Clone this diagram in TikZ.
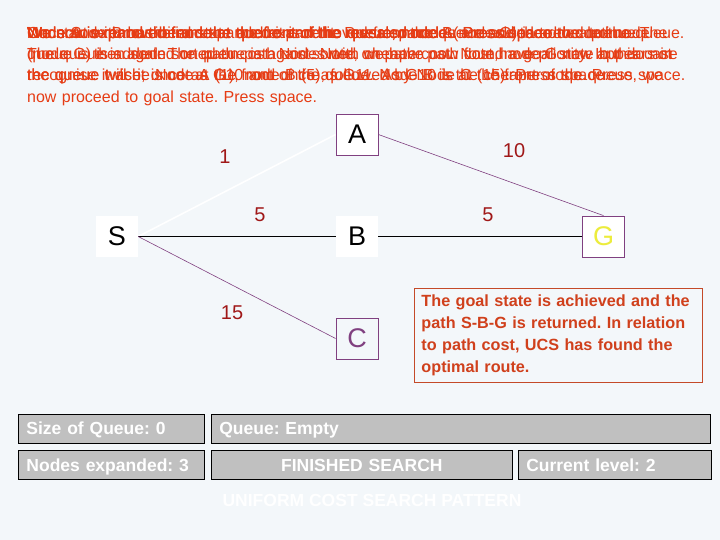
\documentclass[tikz,border=0pt]{standalone}
\usepackage{fontspec}
\setmainfont{Liberation Sans}
\usetikzlibrary{positioning}
\frenchspacing
\definecolor{UcsBack}{HTML}{F3F7FA}
\definecolor{UcsMsg}{HTML}{E63C14}
\definecolor{UcsNote}{HTML}{D0401C}
\definecolor{UcsNoteLine}{HTML}{C44A28}
\definecolor{UcsCost}{HTML}{A01818}
\definecolor{UcsPurple}{HTML}{804080}
\definecolor{UcsGoal}{HTML}{ECEC3C}
\definecolor{UcsGrey}{HTML}{C0C0C0}

\begin{document}
\begin{tikzpicture}[x=1pt, y=-1pt, node distance=6pt and 6pt,
  msgtext/.style={anchor=north west, inner sep=0pt, text width=668pt, align=left,
    text=UcsMsg, font=\fontsize{16}{21.3}\selectfont},
  statebox/.style={fill=white, minimum width=42pt, minimum height=41pt, inner sep=0pt,
    font=\fontsize{27}{30}\selectfont},
  markedbox/.style={statebox, draw=UcsPurple, line width=0.8pt},
  costlabel/.style={text=UcsCost, font=\fontsize{20}{24}\selectfont},
  infobox/.style={draw=black, fill=UcsGrey, line width=0.9pt, minimum height=29pt,
    inner xsep=8pt, inner ysep=0pt, text height=13pt, text depth=1pt, align=left, text=white,
    font=\fontsize{17.5}{20}\selectfont\bfseries}]
  \useasboundingbox (0,0) rectangle (720,540);
  \fill[UcsBack] (0,0) rectangle (720,540);

  % overlaid step messages
  \node[msgtext] (msg1) at (27,26.5) {We start with our initial state and expand it. Press space.};
  \node[msgtext] (msg2) at (27,26.5) {Node S is removed from the queue and the revealed nodes are added to the queue. The queue is then sorted on path cost. Nodes with cheaper path cost have priority. In this case the queue will be Node A (1), node B (5), followed by Node C (15). Press space.};
  \node[msgtext] (msg3) at (27,26.5) {We now expand the node at the front of the queue, node A. Press space to continue.};
  \node[msgtext] (msg4) at (27,26.5) {Node A is removed from the queue and the revealed node (node G) is added to the queue. The queue is again sorted on path cost. Note, we have now found a goal state but do not recognise it as it is not at the front of the queue. Node B is the cheaper node. Press space.};
  \node[msgtext] (msg5) at (27,26.5) {We now expand the node at the front of the queue, node B. Press space.};
  \node[msgtext] (msg6) at (27,26.5) {Once node B has been expanded it is removed from the queue and the revealed node (node G) is added. The queue is again sorted on path cost. Note, node G now appears in the queue twice, once as G10 and once as G11. As G10 is at the front of the queue, we now proceed to goal state. Press space.};

  % search graph
  \node[markedbox] (A) at (357,134.5) {A};
  \node[statebox] (S) at (117,236.5) {S};
  \node[statebox] (B) at (357,236.5) {B};
  \node[markedbox, text=UcsGoal] (G) at (603.5,236.5) {G};
  \node[markedbox, fill=UcsBack, text=UcsPurple] (C) at (357,338.5) {C};
  \draw[white, line width=1.6pt] (S.east) -- (A.west);
  \draw[UcsPurple, line width=0.6pt] (A.east) -- (G.north);
  \draw[black, line width=0.8pt] (S.east) -- (B.west);
  \draw[black, line width=0.8pt] (B.east) -- (G.west);
  \draw[UcsPurple, line width=0.6pt] (S.east) -- (C.west);
  \node[costlabel] (costSA) at (225,157) {1};
  \node[costlabel] (costAG) at (514,151) {10};
  \node[costlabel] (costSB) at (260,215) {5};
  \node[costlabel] (costBG) at (488,215) {5};
  \node[costlabel] (costSC) at (232,313) {15};

  \node[draw=UcsNoteLine, line width=0.9pt, anchor=north west, text width=274pt, inner xsep=7pt,
    minimum height=94pt, align=left, text=UcsNote, font=\fontsize{16.2}{22}\selectfont\bfseries]
    (note) at (414,288) {The goal state is achieved and the path S-B-G is returned. In relation to path cost, UCS has found the optimal route.};

  % status panel
  \node[infobox, text width=170pt, anchor=west] (qsize) at (18,428.5) {Size of Queue: 0};
  \node[infobox, text width=483pt, right=of qsize] (queue) {Queue: Empty};
  \node[infobox, text width=170pt, below=7pt of qsize] (expanded) {Nodes expanded: 3};
  \node[infobox, text width=285pt, align=center, right=of expanded] (finished) {FINISHED SEARCH};
  \node[infobox, text width=177pt, right=5pt of finished] (level) {Current level: 2};
  \node[text=white, font=\fontsize{17.5}{20}\selectfont\bfseries] (title) at (372,500) {UNIFORM COST SEARCH PATTERN};
\end{tikzpicture}
\end{document}
